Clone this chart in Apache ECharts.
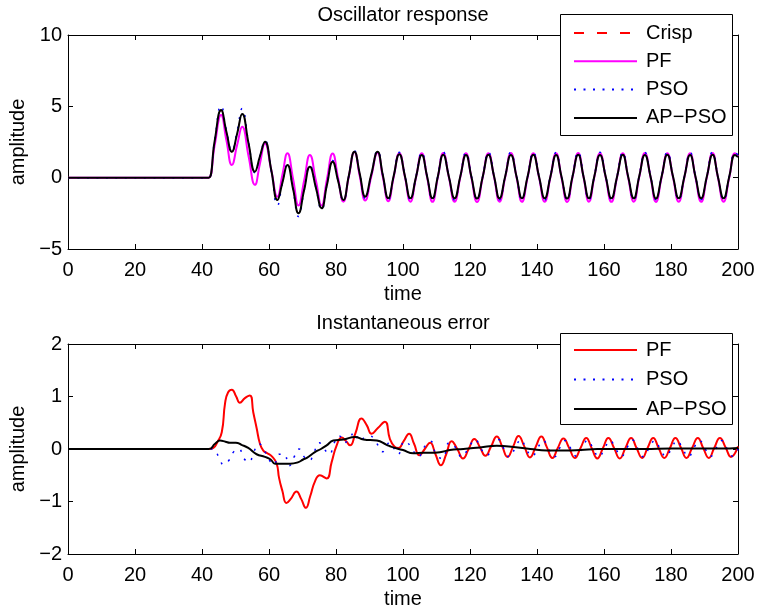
<!DOCTYPE html>
<html>
<head>
<meta charset="utf-8">
<script src="https://cdn.jsdelivr.net/npm/echarts@6/dist/echarts.min.js"></script>
<style>
html,body{margin:0;padding:0;background:#fff;}
#chart{width:759px;height:610px;}
</style>
</head>
<body>
<div id="chart"></div>
<script>
// ---------- DATA ----------
const xTicks = [0, 20, 40, 60, 80, 100, 120, 140, 160, 180, 200];
const yTicksTop = [-5, 0, 5, 10];
const yTicksBottom = [-2, -1, 0, 1, 2];

// top plot sample times (peaks / troughs / crossings)
const tTop = [
  0, 41, 42, 43.8, 45.7, 47.3, 48.9, 50.5, 52.0, 53.9, 55.8, 57.3, 58.8, 60.7, 62.5, 64.0, 65.5, 67.2, 68.8, 70.5,
  72.2, 74.0, 75.7, 77.3, 79.0, 80.6, 82.2, 83.8, 85.5, 87.1, 88.7, 90.5, 92.4, 94.0, 95.6, 97.2, 98.9,
  100.6, 102.2, 103.9, 105.6,
  107.2, 108.8, 110.4, 112.0,
  113.7, 115.4, 117.1, 118.8,
  120.4, 122.1, 123.8, 125.5,
  127.2, 128.8, 130.5, 132.2,
  133.9, 135.5, 137.2, 138.9,
  140.6, 142.3, 144.0, 145.7,
  147.3, 149.0, 150.6, 152.3,
  153.9, 155.5, 157.1, 158.8,
  160.5, 162.2, 163.9, 165.6,
  167.2, 168.9, 170.5, 172.2,
  173.9, 175.5, 177.2, 178.9,
  180.6, 182.3, 184.0, 185.7,
  187.3, 189.0, 190.7, 192.4,
  194.0, 195.7, 197.4, 199.1,
  200
];

const crispTop = [
  0, 0, 0, 2.6, 4.7, 3.2, 1.8, 3.1, 4.45, 2.4, 0.42, 1.5, 2.5, 0.5, -1.55, -0.35, 0.9, -0.8, -2.48, -0.85,
  0.78, -0.7, -2.13, -0.5, 1.12, -0.2, -1.55, 0.1, 1.8, 0.25, -1.33, 0.2, 1.8, 0.15, -1.45, 0.1, 1.64,
  0.10, -1.47, 0.08, 1.62,
  0.09, -1.46, 0.08, 1.63,
  0.09, -1.47, 0.08, 1.62,
  0.10, -1.47, 0.09, 1.63,
  0.09, -1.46, 0.08, 1.62,
  0.09, -1.47, 0.08, 1.63,
  0.10, -1.47, 0.08, 1.62,
  0.09, -1.46, 0.09, 1.62,
  0.09, -1.47, 0.08, 1.63,
  0.10, -1.47, 0.08, 1.62,
  0.09, -1.46, 0.08, 1.63,
  0.09, -1.47, 0.09, 1.62,
  0.10, -1.47, 0.08, 1.62,
  0.09, -1.46, 0.08, 1.63,
  0.09, -1.47, 0.08, 1.62,
  1.45
];

const pfTop = [
  0, 0, 0, 2.3, 4.4, 2.6, 0.89, 2.3, 3.57, 1.5, -0.5, 1.0, 2.4, 0.5, -1.33, 0.2, 1.71, -0.1, -1.95, -0.2,
  1.59, -0.2, -1.95, -0.1, 1.7, 0.0, -1.68, 0.05, 1.8, 0.1, -1.6, 0.05, 1.75, 0.03, -1.65, 0.02, 1.72,
  0.02, -1.68, 0.03, 1.72,
  0.02, -1.69, 0.02, 1.73,
  0.03, -1.68, 0.02, 1.72,
  0.02, -1.70, 0.03, 1.72,
  0.02, -1.68, 0.02, 1.73,
  0.03, -1.69, 0.02, 1.72,
  0.02, -1.68, 0.03, 1.72,
  0.02, -1.70, 0.02, 1.73,
  0.03, -1.68, 0.02, 1.72,
  0.02, -1.69, 0.03, 1.72,
  0.02, -1.68, 0.02, 1.73,
  0.03, -1.70, 0.02, 1.72,
  0.02, -1.68, 0.03, 1.72,
  0.02, -1.69, 0.02, 1.73,
  0.03, -1.68, 0.02, 1.72,
  1.5
];

const psoTop = [
  0, 0, 0, 2.7, 5.05, 3.3, 1.9, 3.3, 4.85, 2.5, 0.35, 1.5, 2.6, 0.4, -1.95, -0.4, 0.95, -0.9, -2.73, -0.9,
  0.85, -0.7, -2.25, -0.5, 1.2, -0.2, -1.6, 0.1, 1.9, 0.25, -1.45, 0.2, 1.9, 0.15, -1.55, 0.1, 1.78,
  0.12, -1.55, 0.10, 1.78,
  0.10, -1.52, 0.12, 1.80,
  0.11, -1.56, 0.10, 1.76,
  0.12, -1.54, 0.11, 1.79,
  0.10, -1.55, 0.12, 1.78,
  0.11, -1.53, 0.10, 1.80,
  0.12, -1.56, 0.11, 1.77,
  0.10, -1.54, 0.12, 1.79,
  0.11, -1.55, 0.10, 1.78,
  0.12, -1.52, 0.11, 1.80,
  0.10, -1.56, 0.12, 1.77,
  0.11, -1.54, 0.10, 1.79,
  0.12, -1.55, 0.11, 1.78,
  0.10, -1.53, 0.12, 1.80,
  0.11, -1.56, 0.10, 1.77,
  1.6
];

const apTop = [
  0, 0, 0, 2.6, 4.74, 3.2, 1.82, 3.1, 4.46, 2.4, 0.42, 1.5, 2.52, 0.5, -1.56, -0.35, 0.89, -0.8, -2.5, -0.85,
  0.77, -0.7, -2.15, -0.5, 1.12, -0.2, -1.56, 0.1, 1.82, 0.25, -1.33, 0.2, 1.82, 0.15, -1.45, 0.1, 1.65,
  0.08, -1.45, 0.07, 1.59,
  0.08, -1.44, 0.08, 1.60,
  0.07, -1.45, 0.08, 1.59,
  0.08, -1.46, 0.07, 1.60,
  0.08, -1.45, 0.08, 1.59,
  0.07, -1.44, 0.08, 1.60,
  0.08, -1.45, 0.07, 1.59,
  0.08, -1.46, 0.08, 1.60,
  0.07, -1.45, 0.08, 1.59,
  0.08, -1.44, 0.07, 1.60,
  0.08, -1.45, 0.08, 1.59,
  0.07, -1.46, 0.08, 1.60,
  0.08, -1.45, 0.07, 1.59,
  0.08, -1.44, 0.08, 1.60,
  0.07, -1.45, 0.08, 1.59,
  1.44
];

// bottom plot: instantaneous error
const tPfErr = [
  0, 42, 43.4, 44.5, 45.9, 46.9, 47.8, 48.9, 50.2, 51.3,
  52.8, 54.3, 55.3, 56.3, 57.3, 58.3, 59.5, 61.0, 62.3, 63.0,
  64.0, 65.2, 66.5, 68.2, 69.6, 71.0, 72.3, 73.7, 75.2, 77.2,
  78.7, 80.2, 81.7, 83.0, 84.2, 85.8, 87.6, 89.2, 90.6, 92.5,
  94.6, 96.1, 97.4, 98.6, 100.2, 101.8, 103.3, 104.9, 106.5, 108.1,
  109.7, 111.3, 112.9, 114.5, 116.2, 117.9, 119.6, 121.3, 123.0, 124.6,
  126.3, 128.0, 129.6, 131.2, 132.9, 134.5, 136.2, 137.9, 139.6, 141.3,
  142.9, 144.6, 146.2, 147.9, 149.6, 151.3, 153.0, 154.7, 156.3, 158.0,
  159.7, 161.3, 163.0, 164.7, 166.4, 168.1, 169.7, 171.4, 173.0, 174.7,
  176.3, 178.0, 179.7, 181.3, 183.0, 184.6, 186.3, 188.0, 189.6, 191.3,
  192.9, 194.6, 196.3, 197.9, 200
];
const vPfErr = [
  0, 0, 0.02, 0.12, 0.32, 0.88, 1.08, 1.13, 1.0, 0.88,
  0.97, 1.02, 0.7, 0.4, 0.1, -0.03, -0.08, -0.15, -0.28, -0.55,
  -0.8, -1.03, -0.95, -0.81, -0.95, -1.12, -0.9, -0.62, -0.5, -0.56,
  -0.25, 0.07, 0.22, 0.15, 0.07, 0.3, 0.58, 0.45, 0.29, 0.4,
  0.52, 0.19, 0.05, 0.02, 0.15, 0.29, 0.1, -0.12, 0.0, 0.12,
  -0.1, -0.31, -0.1, 0.15, 0.0, -0.18, 0.0, 0.19, 0.03, -0.13,
  0.05, 0.24, 0.05, -0.15, 0.05, 0.25, 0.05, -0.16, 0.04, 0.24,
  0.04, -0.17, 0.02, 0.2, 0.02, -0.17, 0.02, 0.21, 0.02, -0.18,
  0.02, 0.21, 0.02, -0.18, 0.02, 0.21, 0.02, -0.17, 0.02, 0.21,
  0.02, -0.17, 0.02, 0.21, 0.02, -0.17, 0.02, 0.21, 0.02, -0.17,
  0.02, 0.21, 0.03, -0.15, 0.05
];

const tPsoErr = [
  0, 42, 43.4, 45.0, 46.5, 48.0, 49.5, 51.0, 52.5, 54.0,
  55.5, 57.0, 58.5, 60.0, 61.5, 63.0, 64.5, 66.0, 67.5, 69.0,
  70.5, 72.0, 73.5, 75.0, 76.5, 78.0, 79.5, 81.0, 82.5, 84.0,
  85.5, 87.0, 88.5, 90.0, 92.0, 94.0, 96.0, 98.5, 100.5, 102.3,
  104.5, 106.5, 108.2, 110.0, 111.8, 113.8, 115.8, 117.5, 119.8, 121.5,
  123.3, 125.0, 126.8, 128.5, 130.2, 131.8, 133.5, 135.2, 136.8, 138.5,
  140.2, 141.8, 143.5, 145.2, 146.8, 148.5, 150.2, 151.8, 153.5, 155.2,
  156.8, 158.5, 160.2, 161.8, 163.5, 165.2, 166.8, 168.5, 170.2, 171.8,
  173.5, 175.2, 176.8, 178.5, 180.2, 181.8, 183.5, 185.2, 186.8, 188.5,
  190.2, 191.8, 193.5, 195.2, 196.8, 198.5, 200
];
const vPsoErr = [
  0, 0, 0, -0.15, -0.3, -0.22, -0.05, 0.0, -0.18, -0.25,
  -0.05, 0.1, -0.02, -0.2, -0.3, -0.1, -0.1, -0.32, -0.15, 0.0,
  -0.15, -0.22, -0.05, 0.12, 0.0, -0.1, 0.12, 0.25, 0.12, 0.2,
  0.32, 0.15, 0.22, 0.25, 0.12, -0.05, 0.12, -0.1, 0.15, 0.05,
  -0.15, 0.05, 0.15, -0.12, -0.18, 0.12, 0.02, -0.15, 0.05, 0.18,
  0.0, -0.12, 0.05, 0.18, 0.0, -0.15, 0.02, 0.18, 0.0, -0.14,
  0.02, 0.16, 0.0, -0.15, 0.02, 0.16, 0.0, -0.14, 0.02, 0.17,
  0.0, -0.15, 0.02, 0.16, 0.0, -0.14, 0.02, 0.17, 0.0, -0.15,
  0.02, 0.16, 0.0, -0.14, 0.02, 0.16, 0.0, -0.15, 0.02, 0.16,
  0.0, -0.14, 0.02, 0.16, 0.0, -0.14, 0.0
];

const tApErr = [
  0, 42, 43.9, 45.4, 47.0, 48.3, 50.1, 51.8, 53.8, 56.3,
  58.8, 60.5, 61.8, 64.0, 66.3, 68.8, 70.2, 71.3, 73.7, 75.5,
  77.2, 79.2, 82.2, 85.7, 88.2, 92.2, 95.1, 96.6, 100.0, 103.1,
  106.0, 108.1, 111.0, 114.0, 118.0, 123.0, 128.0, 133.0, 138.0, 143.0,
  148.0, 153.0, 158.0, 165.0, 172.0, 180.0, 188.0, 195.0, 200
];
const vApErr = [
  0, 0, 0.1, 0.16, 0.14, 0.12, 0.12, 0.08, 0.02, -0.1,
  -0.15, -0.2, -0.28, -0.28, -0.28, -0.25, -0.2, -0.17, -0.06, 0.0,
  0.07, 0.16, 0.18, 0.23, 0.18, 0.16, 0.08, 0.04, -0.02, -0.08,
  -0.07, -0.07, -0.06, -0.02, 0.0, 0.03, 0.06, 0.04, 0.0, -0.03,
  -0.03, -0.02, 0.0, 0.0, 0.0, 0.01, 0.01, 0.01, 0.02
];

// ---------- CHART ----------
const FONT = '"Liberation Sans", Arial, Helvetica, sans-serif';
const pairs = (ts, vs) => ts.map((t, i) => [t, vs[i]]);
const minus = v => String(v).replace('-', '\u2212');

function xAx(grid, pos, withLabels) {
  return {
    type: 'value', gridIndex: grid, position: pos,
    min: xTicks[0], max: xTicks[xTicks.length - 1], interval: xTicks[1] - xTicks[0],
    axisLine: { show: true, onZero: false, lineStyle: { color: '#000', width: 1 } },
    axisTick: { show: true, inside: true, length: 5, lineStyle: { color: '#000' } },
    splitLine: { show: false },
    axisLabel: { show: withLabels, color: '#000', fontSize: 20, fontFamily: FONT, margin: 11 },
    name: withLabels ? 'time' : '',
    nameLocation: 'middle', nameGap: 35,
    nameTextStyle: { color: '#000', fontSize: 20, fontFamily: FONT }
  };
}
function yAx(grid, pos, ticks, withLabels) {
  return {
    type: 'value', gridIndex: grid, position: pos,
    min: ticks[0], max: ticks[ticks.length - 1], interval: ticks[1] - ticks[0],
    axisLine: { show: true, onZero: false, lineStyle: { color: '#000', width: 1 } },
    axisTick: { show: true, inside: true, length: 5, lineStyle: { color: '#000' } },
    splitLine: { show: false },
    axisLabel: { show: withLabels, color: '#000', fontSize: 20, fontFamily: FONT, margin: 6, formatter: minus },
    name: withLabels ? 'amplitude' : '',
    nameLocation: 'middle', nameGap: 38,
    nameTextStyle: { color: '#000', fontSize: 20, fontFamily: FONT }
  };
}
function line(name, data, xi, yi, color, width, type) {
  return {
    name, type: 'line', data, xAxisIndex: xi, yAxisIndex: yi,
    symbol: 'none', smooth: true, animation: false,
    lineStyle: { color, width, type: type || 'solid' },
    itemStyle: { color }
  };
}
const hiddenIcon = { color: 'rgba(0,0,0,0)', borderColor: 'rgba(0,0,0,0)', borderWidth: 0, opacity: 0 };

const chart = echarts.init(document.getElementById('chart'), null, { renderer: 'canvas' });
chart.setOption({
  animation: false,
  backgroundColor: '#fff',
  title: [
    { text: 'Oscillator response', left: 403, top: 5, textAlign: 'center', padding: 0,
      textStyle: { fontSize: 20, fontWeight: 'normal', color: '#000', fontFamily: FONT } },
    { text: 'Instantaneous error', left: 403, top: 313, textAlign: 'center', padding: 0,
      textStyle: { fontSize: 20, fontWeight: 'normal', color: '#000', fontFamily: FONT } }
  ],
  grid: [
    { left: 68, top: 35, width: 670, height: 214 },
    { left: 68, top: 344, width: 670, height: 213 }
  ],
  xAxis: [xAx(0, 'bottom', true), xAx(0, 'top', false), xAx(1, 'bottom', true), xAx(1, 'top', false)],
  yAxis: [yAx(0, 'left', yTicksTop, true), yAx(0, 'right', yTicksTop, false),
          yAx(1, 'left', yTicksBottom, true), yAx(1, 'right', yTicksBottom, false)],
  graphic: [
    { type: 'rect', z: 10, shape: { x: 560.5, y: 14.5, width: 172, height: 121 },
      style: { fill: '#fff', stroke: '#000', lineWidth: 1 } },
    { type: 'rect', z: 10, shape: { x: 560.5, y: 333.5, width: 172, height: 91 },
      style: { fill: '#fff', stroke: '#000', lineWidth: 1 } }
  ],
  legend: [
    { z: 20, left: 573, top: 23, orient: 'vertical', itemWidth: 63, itemHeight: 20, itemGap: 8.3,
      padding: 0, selectedMode: false, data: ['Crisp', 'PF', 'PSO', 'AP\u2212PSO'],
      itemStyle: hiddenIcon,
      textStyle: { fontSize: 20, fontFamily: FONT, color: '#000', padding: [0, 0, 0, 4] } },
    { z: 20, left: 573, top: 340, orient: 'vertical', itemWidth: 63, itemHeight: 20, itemGap: 9.5,
      padding: 0, selectedMode: false, data: ['PF (err)', 'PSO (err)', 'AP\u2212PSO (err)'],
      itemStyle: hiddenIcon,
      formatter: n => n.split(' ')[0],
      textStyle: { fontSize: 20, fontFamily: FONT, color: '#000', padding: [0, 0, 0, 4] } }
  ],
  series: [
    line('Crisp', pairs(tTop, crispTop), 0, 0, '#ff0000', 1, [10, 13]),
    line('PF', pairs(tTop, pfTop), 0, 0, '#ff00ff', 2),
    line('PSO', pairs(tTop, psoTop), 0, 0, '#0000ff', 1.5, [2, 7.5]),
    line('AP\u2212PSO', pairs(tTop, apTop), 0, 0, '#000000', 2),
    line('PF (err)', pairs(tPfErr, vPfErr), 2, 2, '#ff0000', 2),
    line('PSO (err)', pairs(tPsoErr, vPsoErr), 2, 2, '#0000ff', 1.5, [2, 7.5]),
    line('AP\u2212PSO (err)', pairs(tApErr, vApErr), 2, 2, '#000000', 2)
  ]
});
</script>
</body>
</html>
